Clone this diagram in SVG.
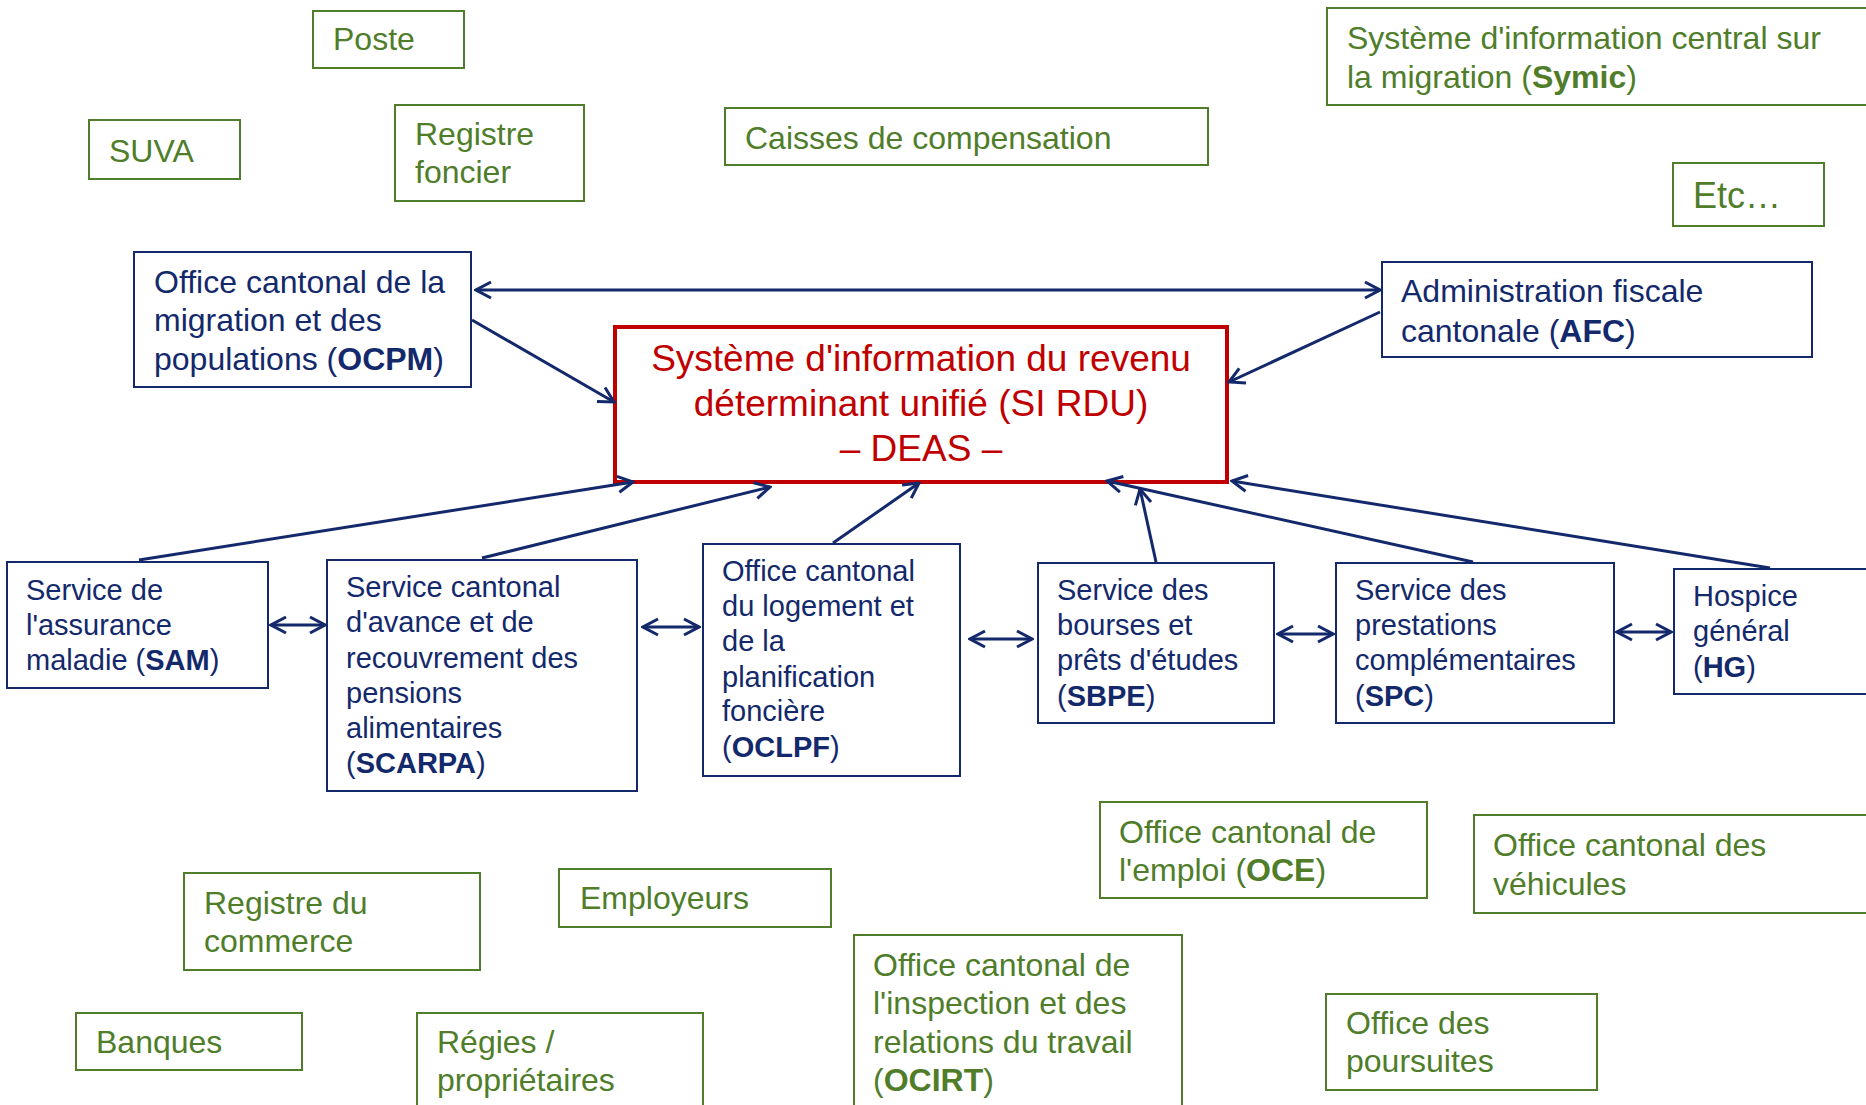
<svg xmlns="http://www.w3.org/2000/svg" width="1866" height="1105" viewBox="0 0 1866 1105">
<style>
text{font-family:"Liberation Sans",Arial,sans-serif}
.g rect{fill:#fff;stroke:#4F7D2A;stroke-width:2}
.g text{fill:#4F7D2A;font-size:32px}
.b rect{fill:#fff;stroke:#13296B;stroke-width:2}
.b text{fill:#13296B;font-size:32px}
.b text.s{font-size:29px}
.bold{font-weight:bold}
.c line{stroke:#13296B;stroke-width:3;fill:none}
</style>
<defs>
<marker id="ah" viewBox="0 0 20 20" refX="18" refY="10" markerWidth="20" markerHeight="20" markerUnits="userSpaceOnUse" orient="auto-start-reverse">
<path d="M3,2 L18,10 L3,18" fill="none" stroke="#13296B" stroke-width="3"/>
</marker>
</defs>
<rect width="1866" height="1105" fill="#fff"/>

<g id="poste" class="g"><rect x="313" y="11" width="151" height="57"/><text x="333" y="50">Poste</text></g>
<g id="suva" class="g"><rect x="89" y="120" width="151" height="59"/><text x="109" y="162">SUVA</text></g>
<g id="registre-foncier" class="g"><rect x="395" y="105" width="189" height="96"/><text x="415" y="145">Registre</text><text x="415" y="183">foncier</text></g>
<g id="caisses" class="g"><rect x="725" y="108" width="483" height="57"/><text x="745" y="149">Caisses de compensation</text></g>
<g id="symic" class="g"><rect x="1327" y="8" width="560" height="97"/><text x="1347" y="49">Système d'information central sur</text><text x="1347" y="88">la migration (<tspan class="bold">Symic</tspan>)</text></g>
<g id="etc" class="g"><rect x="1673" y="163" width="151" height="63"/><text x="1693" y="208" style="font-size:36px">Etc…</text></g>

<g id="ocpm" class="b"><rect x="134" y="252" width="337" height="135"/><text x="154" y="293">Office cantonal de la</text><text x="154" y="331">migration et des</text><text x="154" y="370">populations (<tspan class="bold">OCPM</tspan>)</text></g>
<g id="afc" class="b"><rect x="1382" y="262" width="430" height="95"/><text x="1401" y="302">Administration fiscale</text><text x="1401" y="342">cantonale (<tspan class="bold">AFC</tspan>)</text></g>

<g id="sirdu"><rect x="615" y="327" width="612" height="155" fill="#fff" stroke="#C00000" stroke-width="4"/>
<text x="921" y="371" text-anchor="middle" fill="#C00000" font-size="37">Système d'information du revenu</text>
<text x="921" y="416" text-anchor="middle" fill="#C00000" font-size="37">déterminant unifié (SI RDU)</text>
<text x="921" y="461" text-anchor="middle" fill="#C00000" font-size="37">– DEAS –</text></g>

<g id="sam" class="b"><rect x="7" y="562" width="261" height="126"/><text class="s" x="26" y="600">Service de</text><text class="s" x="26" y="635">l'assurance</text><text class="s" x="26" y="670">maladie (<tspan class="bold">SAM</tspan>)</text></g>
<g id="scarpa" class="b"><rect x="327" y="560" width="310" height="231"/><text class="s" x="346" y="597">Service cantonal</text><text class="s" x="346" y="632">d'avance et de</text><text class="s" x="346" y="668">recouvrement des</text><text class="s" x="346" y="703">pensions</text><text class="s" x="346" y="738">alimentaires</text><text class="s" x="346" y="773">(<tspan class="bold">SCARPA</tspan>)</text></g>
<g id="oclpf" class="b"><rect x="703" y="544" width="257" height="232"/><text class="s" x="722" y="581">Office cantonal</text><text class="s" x="722" y="616">du logement et</text><text class="s" x="722" y="651">de la</text><text class="s" x="722" y="687">planification</text><text class="s" x="722" y="721">foncière</text><text class="s" x="722" y="757">(<tspan class="bold">OCLPF</tspan>)</text></g>
<g id="sbpe" class="b"><rect x="1038" y="563" width="236" height="160"/><text class="s" x="1057" y="600">Service des</text><text class="s" x="1057" y="635">bourses et</text><text class="s" x="1057" y="670">prêts d'études</text><text class="s" x="1057" y="706">(<tspan class="bold">SBPE</tspan>)</text></g>
<g id="spc" class="b"><rect x="1336" y="563" width="278" height="160"/><text class="s" x="1355" y="600">Service des</text><text class="s" x="1355" y="635">prestations</text><text class="s" x="1355" y="670">complémentaires</text><text class="s" x="1355" y="706">(<tspan class="bold">SPC</tspan>)</text></g>
<g id="hg" class="b"><rect x="1674" y="569" width="220" height="125"/><text class="s" x="1693" y="606">Hospice</text><text class="s" x="1693" y="641">général</text><text class="s" x="1693" y="677">(<tspan class="bold">HG</tspan>)</text></g>

<g id="oce" class="g"><rect x="1100" y="802" width="327" height="96"/><text x="1119" y="843">Office cantonal de</text><text x="1119" y="881">l'emploi (<tspan class="bold">OCE</tspan>)</text></g>
<g id="vehicules" class="g"><rect x="1474" y="815" width="420" height="98"/><text x="1493" y="856">Office cantonal des</text><text x="1493" y="895">véhicules</text></g>
<g id="registre-commerce" class="g"><rect x="184" y="873" width="296" height="97"/><text x="204" y="914">Registre du</text><text x="204" y="952">commerce</text></g>
<g id="employeurs" class="g"><rect x="559" y="869" width="272" height="58"/><text x="580" y="909">Employeurs</text></g>
<g id="ocirt" class="g"><rect x="854" y="935" width="328" height="190"/><text x="873" y="976">Office cantonal de</text><text x="873" y="1014">l'inspection et des</text><text x="873" y="1053">relations du travail</text><text x="873" y="1091">(<tspan class="bold">OCIRT</tspan>)</text></g>
<g id="poursuites" class="g"><rect x="1326" y="994" width="271" height="96"/><text x="1346" y="1034">Office des</text><text x="1346" y="1072">poursuites</text></g>
<g id="banques" class="g"><rect x="76" y="1013" width="226" height="57"/><text x="96" y="1053">Banques</text></g>
<g id="regies" class="g"><rect x="417" y="1013" width="286" height="120"/><text x="437" y="1053">Régies /</text><text x="437" y="1091">propriétaires</text></g>

<g id="connectors" class="c">
<line x1="476" y1="290" x2="1380" y2="290" marker-start="url(#ah)" marker-end="url(#ah)"/>
<line x1="472" y1="320" x2="614" y2="402" marker-end="url(#ah)"/>
<line x1="1380" y1="312" x2="1229" y2="382" marker-end="url(#ah)"/>
<line x1="139" y1="560" x2="633" y2="482" marker-end="url(#ah)"/>
<line x1="482" y1="558" x2="770" y2="487" marker-end="url(#ah)"/>
<line x1="833" y1="543" x2="919" y2="483" marker-end="url(#ah)"/>
<line x1="1156" y1="562" x2="1140" y2="489" marker-end="url(#ah)"/>
<line x1="1473" y1="562" x2="1107" y2="481" marker-end="url(#ah)"/>
<line x1="1770" y1="568" x2="1232" y2="481" marker-end="url(#ah)"/>
<line x1="271" y1="625" x2="325" y2="625" marker-start="url(#ah)" marker-end="url(#ah)"/>
<line x1="643" y1="627" x2="699" y2="627" marker-start="url(#ah)" marker-end="url(#ah)"/>
<line x1="970" y1="639" x2="1032" y2="639" marker-start="url(#ah)" marker-end="url(#ah)"/>
<line x1="1278" y1="634" x2="1333" y2="634" marker-start="url(#ah)" marker-end="url(#ah)"/>
<line x1="1617" y1="632" x2="1671" y2="632" marker-start="url(#ah)" marker-end="url(#ah)"/>
</g>
</svg>
